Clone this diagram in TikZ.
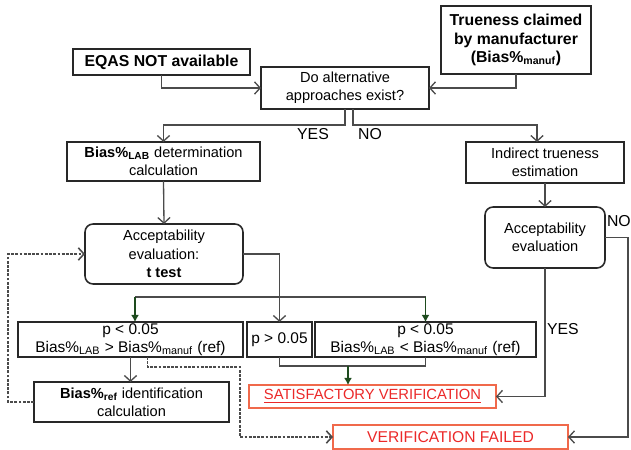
\documentclass[tikz,border=0pt]{standalone}
\usepackage{fontspec}
\setmainfont{Liberation Sans}
\usetikzlibrary{arrows.meta, calc}
\definecolor{linegray}{RGB}{75,75,75}
\definecolor{boxgray}{RGB}{40,40,40}
\definecolor{failred}{RGB}{235,40,40}
\definecolor{failframe}{RGB}{240,105,75}
\definecolor{tipgreen}{RGB}{30,75,30}

\begin{document}
\begin{tikzpicture}[x=0.02cm, y=-0.02cm,
  every node/.style={font=\fontsize{8.3}{10.4}\selectfont, inner sep=0pt, outer sep=0pt, align=center},
  box/.style={draw=boxgray, line width=0.9pt},
  roundbox/.style={box, rounded corners=0.16cm},
  redbox/.style={draw=failframe, line width=0.9pt, text=failred},
  boldtext/.style={font=\fontsize{9}{10.6}\selectfont\bfseries},
  ptext/.style={font=\fontsize{8.8}{10}\selectfont},
  labeltext/.style={font=\fontsize{9}{10}\selectfont},
  link/.style={draw=linegray, line width=0.75pt, -{Straight Barb[length=3.2pt,width=7pt]}},
  plain/.style={draw=linegray, line width=0.75pt},
  greenlink/.style={draw=tipgreen, line width=0.75pt, -{Latex[length=4pt,width=4.5pt]}},
  dashlink/.style={link, line width=0.9pt, dash pattern=on 1.6pt off 0.8pt}]

  \useasboundingbox (0,0) rectangle (631,449);

  % Ausgangslage
  \node[box, boldtext, minimum width=3.54cm, minimum height=0.52cm] (eqas) at (161.5,62) {EQAS NOT available};
  \node[box, boldtext, minimum width=3.0cm, minimum height=1.36cm] (manuf) at (516,40) {Trueness claimed\\by manufacturer\\(Bias\%\textsubscript{manuf})};
  \node[box, minimum width=3.36cm, minimum height=0.84cm] (alt) at (345,88) {Do alternative\\approaches exist?};

  % linker Zweig
  \node[box, minimum width=3.86cm, minimum height=0.78cm] (biaslab) at (163.5,161.5) {\textbf{Bias\%\textsubscript{LAB}} determination\\calculation};
  \node[roundbox, minimum width=3.16cm, minimum height=1.2cm] (accept) at (164,254) {Acceptability\\evaluation:\\\textbf{t test}};
  \node[box, ptext, minimum width=4.5cm, minimum height=0.7cm] (plow) at (130.5,339.5) {p < 0.05\\Bias\%\textsubscript{LAB} > Bias\%\textsubscript{manuf} (ref)};
  \node[box, ptext, minimum width=1.3cm, minimum height=0.7cm] (pgt) at (279.5,339.5) {p > 0.05};
  \node[box, ptext, minimum width=4.42cm, minimum height=0.7cm] (phigh) at (425.5,339.5) {p < 0.05\\Bias\%\textsubscript{LAB} < Bias\%\textsubscript{manuf} (ref)};
  \node[box, minimum width=3.9cm, minimum height=0.8cm] (biasref) at (131.5,402) {\textbf{Bias\%\textsubscript{ref}} identification\\calculation};

  % rechter Zweig
  \node[box, minimum width=3.16cm, minimum height=0.82cm] (indir) at (545,162.5) {Indirect trueness\\estimation};
  \node[roundbox, minimum width=2.4cm, minimum height=1.22cm] (accept2) at (545,237.5) {Acceptability\\evaluation};

  % Ergebnis
  \node[redbox, font=\fontsize{8.4}{10}\selectfont, minimum width=4.94cm, minimum height=0.46cm] (sat) at (372.5,396.5) {\underline{SATISFACTORY VERIFICATION}};
  \node[redbox, font=\fontsize{8.9}{10}\selectfont, minimum width=4.7cm, minimum height=0.48cm] (fail) at (450.5,437) {VERIFICATION FAILED};

  % Beschriftungen
  \node[labeltext] (yes1) at (313,134) {YES};
  \node[labeltext] (no1) at (370,134) {NO};
  \node[labeltext, anchor=west] (yes2) at (547,329) {YES};
  \node[labeltext, anchor=west] (no2) at (607,221) {NO};

  % Verbindungen oben
  \draw[link] (eqas.south) |- (alt.west);
  \draw[link] (manuf.south) |- (alt.east);
  \draw[link] (alt.south) -- ++(0,16) -| (biaslab.north);
  \draw[link] ($(alt.south)+(8,0)$) -- ++(0,16) -| ($(indir.north)+(-8,0)$);

  % t-Test
  \draw[link] (biaslab.south) -- (accept.north);
  \draw[link] (accept.east) -| (pgt.north);
  \coordinate (lsplit) at (135,297);
  \coordinate (rsplit) at (phigh.north |- lsplit);
  \draw[plain] (lsplit) -- (rsplit);
  \draw[greenlink] (lsplit) -- (lsplit |- plow.north);
  \draw[greenlink] (rsplit) -- (phigh.north);

  % nach unten
  \coordinate (join) at (348,366);
  \draw[plain] (pgt.south) |- (join) -| (phigh.south);
  \draw[greenlink] (join) -- (join |- sat.north);
  \draw[link] (plow.south) -- (plow.south |- biasref.north);
  \draw[dashlink] (biasref.west) -- ++(-26,0) |- (accept.west);
  \draw[dashlink] ($(plow.south)+(17,0)$) -- ++(0,10) -| ($(fail.west)+(-93,0)$) -- (fail.west);

  % indirekt
  \draw[link] (indir.south) -- (accept2.north);
  \draw[link] (accept2.south) |- (sat.east);
  \draw[link] (accept2.east) -- ++(23,0) |- (fail.east);

\end{tikzpicture}
\end{document}
